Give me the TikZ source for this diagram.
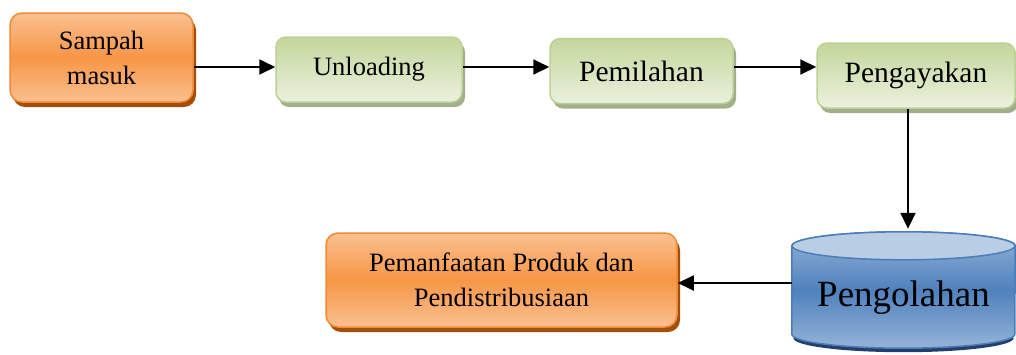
\documentclass[tikz,border=0pt]{standalone}
\usepackage{fontspec}
\setmainfont{Liberation Serif}
\usetikzlibrary{arrows.meta,shadows,backgrounds}

\definecolor{orangeline}{HTML}{F08A34}
\definecolor{orangemid}{HTML}{F79646}
\definecolor{orangelight}{HTML}{FAC090}
\definecolor{orangeshadow}{HTML}{A44E0C}
\definecolor{greenline}{HTML}{BCD292}
\definecolor{greendark}{HTML}{C3D69B}
\definecolor{greenlight}{HTML}{EBF1DE}
\definecolor{greenshadow}{HTML}{A3AF8C}
\definecolor{blueline}{HTML}{4A7EBB}
\definecolor{bluemid}{HTML}{4F81BD}
\definecolor{bluelight}{HTML}{95B3D7}
\definecolor{bluetop}{HTML}{B9CDE5}
\definecolor{blueshadow}{HTML}{24406A}

\begin{document}
\begin{tikzpicture}
 [x=1pt,y=-1pt,
  orange node/.style={rectangle,rounded corners=12pt,draw=orangeline,line width=1.5pt,
    top color=orangelight,bottom color=orangelight,middle color=orangemid,
    drop shadow={shadow xshift=3pt,shadow yshift=-5pt,fill=orangeshadow,opacity=1},
    align=center,inner sep=0pt,font=\fontsize{26.5}{35}\selectfont},
  green node/.style={rectangle,rounded corners=10pt,draw=greenline,line width=1.5pt,
    shading angle=30,top color=greendark,bottom color=greenlight,
    drop shadow={shadow xshift=3pt,shadow yshift=-5pt,fill=greenshadow,opacity=1},
    align=center,inner sep=0pt,minimum height=65pt},
  flow arrow/.style={-{Triangle[length=16pt,width=15pt]},line width=1.8pt}]

\useasboundingbox (0,0) rectangle (1016,354);

\node[orange node,minimum width=183pt,minimum height=89pt] (sampah) at (101.5,57.5) {Sampah\\masuk};
\node[green node,minimum width=186pt,font=\fontsize{26.5}{35}\selectfont] (unloading) at (369,69.5) {Unloading};
\node[green node,minimum width=183pt,font=\fontsize{29.5}{35}\selectfont] (pemilahan) at (641.5,71) {Pemilahan};
\node[green node,minimum width=198pt,font=\fontsize{29.5}{35}\selectfont] (pengayakan) at (916,75.5) {Pengayakan};

\node[inner sep=0pt,minimum width=223pt,minimum height=116pt,text height=35pt,text depth=2pt,
  font=\fontsize{37}{40}\selectfont] (pengolahan) at (903.5,290) {Pengolahan};
\node[orange node,minimum width=351pt,minimum height=94pt] (pemanfaatan) at (501.5,280)
  {Pemanfaatan Produk dan\\Pendistribusiaan};

% cylinder drawn behind its text
\begin{scope}[on background layer]
  \fill[blueshadow] ([yshift=10pt]pengolahan.south) ellipse [x radius=110pt,y radius=14pt];
  \path[draw=blueline,line width=1.5pt,top color=bluelight,bottom color=bluelight,middle color=bluemid]
    ([yshift=-14pt]pengolahan.north west) -- ([yshift=14pt]pengolahan.south west)
    arc [start angle=180,end angle=360,x radius=111.5pt,y radius=14pt]
    -- ([yshift=-14pt]pengolahan.north east)
    arc [start angle=0,end angle=180,x radius=111.5pt,y radius=14pt] -- cycle;
  \filldraw[fill=bluetop,draw=blueline,line width=1.5pt]
    ([yshift=-14pt]pengolahan.north) ellipse [x radius=111.5pt,y radius=14pt];
\end{scope}

\path
  (sampah.east |- 0,67) edge [flow arrow] (unloading.west |- 0,67)
  (unloading.east |- 0,67) edge [flow arrow] (pemilahan.west |- 0,67)
  (pemilahan.east |- 0,67) edge [flow arrow] (pengayakan.west |- 0,67)
  ([xshift=-8pt]pengayakan.south) edge [flow arrow] ([xshift=-8pt,yshift=3pt]pengayakan.south |- pengolahan.north)
  (pengolahan.west |- 0,283) edge [flow arrow] (pemanfaatan.east |- 0,283);

\end{tikzpicture}
\end{document}
